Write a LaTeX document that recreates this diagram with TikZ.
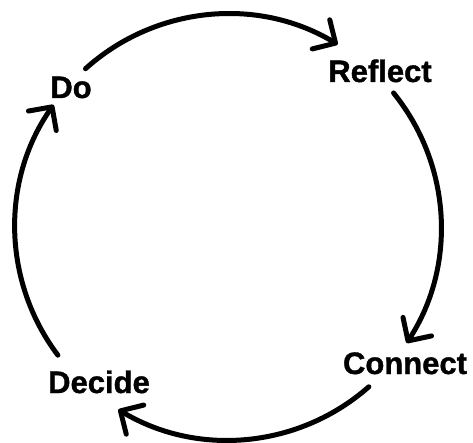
\documentclass[tikz,border=0pt]{standalone}
\usepackage{fontspec}
\setmainfont{Liberation Sans}
\newfontfamily\lblfont{Liberation Sans Bold}[FakeBold=1.2]
\usetikzlibrary{arrows.meta}
\begin{document}
\begin{tikzpicture}[x=1pt,y=-1pt,
  lbl/.style={anchor=base,font=\fontsize{31}{37}\lblfont,inner sep=0pt},
  cyc/.style={line width=5pt,line cap=round,
    -{Straight Barb[length=17pt,width=34pt,line cap=round,line join=round]}}]
\useasboundingbox (0,0) rectangle (473,443);
\coordinate (C) at (228,227);
\node[lbl] (do) at (71,98) {Do};
\node[lbl] (reflect) at (380,82) {Reflect};
\node[lbl] (connect) at (405,374) {Connect};
\node[lbl] (decide) at (99,393) {Decide};
% y axis flipped: angles measured clockwise from +x, so use negated angles
\draw[cyc] (C) ++(-132:213) arc[start angle=-132, end angle=-59, radius=213];
\draw[cyc] (C) ++(-39:213) arc[start angle=-39, end angle=33, radius=213];
\draw[cyc] (C) ++(48.6:213) arc[start angle=48.6, end angle=121, radius=213];
\draw[cyc] (C) ++(143:213) arc[start angle=143, end angle=215, radius=213];
\end{tikzpicture}
\end{document}
